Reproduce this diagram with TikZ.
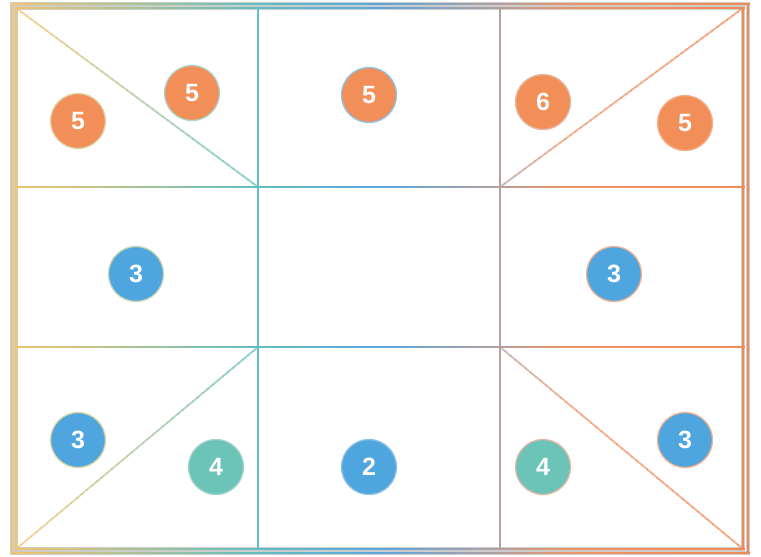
\documentclass[tikz,border=0pt]{standalone}
\usepackage{fontspec}
\setmainfont{Liberation Sans}
\definecolor{cA}{HTML}{F2C46A}
\definecolor{cB}{HTML}{5FBFC2}
\definecolor{cC}{HTML}{5CA6DE}
\definecolor{cD}{HTML}{B4A09E}
\definecolor{cE}{HTML}{EE9466}
\definecolor{cF}{HTML}{F28A55}
\definecolor{corange}{HTML}{F28F58}
\definecolor{cblue}{HTML}{4FA6DE}
\definecolor{cteal}{HTML}{6CC4B9}
\newcommand\gmix[4]{\pgfmathsetmacro\gp{max(0,min(100,(\gx-#3)/(#4-#3)*100))}\colorlet{gc}{#2!\gp!#1}}
\newcommand\setgc[1]{%
  \pgfmathsetmacro\gx{#1}%
  \ifdim\gx pt<258pt \gmix{cA}{cB}{16}{258}%
  \else\ifdim\gx pt<380pt \gmix{cB}{cC}{258}{380}%
  \else\ifdim\gx pt<500pt \gmix{cC}{cD}{380}{500}%
  \else\ifdim\gx pt<570pt \gmix{cD}{cE}{500}{570}%
  \else \gmix{cE}{cF}{570}{743}\fi\fi\fi\fi}
% gradient line: x1 y1 x2 y2 style
\newcommand\gline[5]{%
  \foreach \k in {1,...,48}{%
    \pgfmathsetmacro\xa{#1+(#3-#1)/48*(\k-1)}%
    \pgfmathsetmacro\ya{#2+(#4-#2)/48*(\k-1)}%
    \pgfmathsetmacro\xb{#1+(#3-#1)/48*(\k+0.15)}%
    \pgfmathsetmacro\yb{#2+(#4-#2)/48*(\k+0.15)}%
    \pgfmathsetmacro\xm{#1+(#3-#1)/48*(\k-0.5)}%
    \setgc{\xm}%
    \draw[gc,#5] (\xa,\ya) -- (\xb,\yb);
  }}
\tikzset{
  gridline/.style={line width=2.9pt},
  diagline/.style={line width=1.8pt, draw opacity=0.7},
  borderline/.style={line width=2.3pt},
  halo/.style={draw=black!20, line width=3.6pt},
  num/.style={circle, minimum size=55pt, inner sep=0pt, text=white,
    font=\fontsize{25}{25}\selectfont\bfseries, line width=1.3pt},
}
\newcommand\numnode[5]{% name, x, y, fill, text
  \setgc{#2}%
  \node[num, fill=#4, draw=gc!70!white] (#1) at (#2,#3) {#5};}
\begin{document}
\begin{tikzpicture}[x=1pt,y=-1pt]
\useasboundingbox (0,0) rectangle (761,557);
% border halos
\draw[halo] (12,4) rectangle (748,553);
\draw[halo] (16,8) rectangle (743,549);
% outer and inner border
\gline{12}{4}{748}{4}{borderline, line width=1.8pt}
\gline{12}{553}{748}{553}{borderline, line width=1.8pt}
\setgc{12}\draw[gc, line width=1.8pt] (12,4) -- (12,553);
\setgc{748}\draw[gc, line width=1.8pt] (748,4) -- (748,553);
\gline{16}{8}{743}{8}{borderline}
\gline{16}{549}{743}{549}{borderline}
\setgc{16}\draw[gc, borderline] (16,8) -- (16,549);
\setgc{743}\draw[gc, borderline] (743,8) -- (743,549);
% grid
\gline{16}{187}{743}{187}{gridline}
\gline{16}{347}{743}{347}{gridline}
\setgc{258}\draw[gc, gridline] (258,8) -- (258,549);
\setgc{500}\draw[gc, gridline] (500,8) -- (500,549);
% diagonals
\gline{16}{8}{258}{187}{diagline}
\gline{743}{8}{500}{187}{diagline}
\gline{16}{549}{258}{347}{diagline}
\gline{500}{347}{743}{549}{diagline}
% numbers
\numnode{a1}{78}{121}{corange}{5}
\numnode{a2}{192}{93}{corange}{5}
\numnode{b1}{369}{95}{corange}{5}
\numnode{c1}{543}{102}{corange}{6}
\numnode{c2}{685}{123}{corange}{5}
\numnode{d1}{136}{274}{cblue}{3}
\numnode{f1}{614}{274}{cblue}{3}
\numnode{g1}{78}{440}{cblue}{3}
\numnode{g2}{216}{467}{cteal}{4}
\numnode{h1}{369}{467}{cblue}{2}
\numnode{i1}{543}{467}{cteal}{4}
\numnode{i2}{685}{440}{cblue}{3}
\end{tikzpicture}
\end{document}
